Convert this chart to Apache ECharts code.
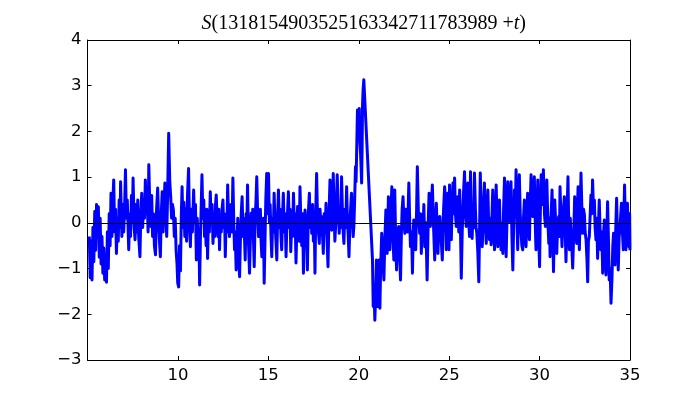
<!DOCTYPE html>
<html>
<head>
<meta charset="utf-8">
<script src="https://cdn.jsdelivr.net/npm/echarts@6/dist/echarts.min.js"></script>
<style>html,body{margin:0;padding:0;background:#fff}#c{width:700px;height:400px}</style>
</head>
<body>
<div id="c"></div>
<script>
// Tick values
const xTicks = [5, 10, 15, 20, 25, 30, 35];
const yTicks = [-3, -2, -1, 0, 1, 2, 3, 4];
const titleNumber = "1318154903525163342711783989";

// Series values [t, S], by segment
const segA = [[5.10,-0.30],[5.15,-1.20],[5.20,-0.40],[5.25,-1.25],[5.30,-0.10],[5.35,-0.85],[5.40,0.25],[5.45,-0.60],[5.50,0.40],[5.55,-0.20],[5.60,0.35],[5.65,-0.75],[5.70,0.10],[5.75,-0.90],[5.80,-0.30],[5.85,-1.10],[5.90,-0.55],[5.95,-1.25],[6.00,-0.70],[6.05,-1.30],[6.10,-0.20],[6.15,-1.00],[6.20,0.20],[6.25,-0.50],[6.30,0.65],[6.35,-0.30],[6.40,0.45],[6.45,0.94],[6.50,-0.20],[6.55,0.30],[6.60,-0.67],[6.65,0.10],[6.70,-0.40],[6.75,0.50],[6.80,-0.10],[6.83,0.90],[6.90,-0.30],[6.95,0.40],[7.00,-0.20],[7.05,0.30],[7.10,1.16],[7.15,0.10],[7.20,0.50],[7.28,-0.59],[7.33,0.20],[7.38,-0.30],[7.43,0.60],[7.48,0.00],[7.52,0.98],[7.58,-0.10],[7.63,-0.37],[7.68,0.40],[7.73,-0.20],[7.78,0.50],[7.83,-0.30],[7.90,-0.74],[7.95,0.20],[8.00,0.65],[8.05,-0.10],[8.10,0.50],[8.15,0.10],[8.20,0.94],[8.25,0.20],[8.30,0.60],[8.35,-0.20],[8.39,1.27],[8.45,0.30],[8.50,-0.08],[8.55,0.60],[8.60,-0.30],[8.65,0.20],[8.70,-0.50],[8.76,-0.70],[8.82,0.30],[8.88,0.76],[8.93,0.10],[8.98,-0.40],[9.03,-0.74],[9.08,0.20],[9.13,0.68],[9.18,-0.20],[9.23,0.40],[9.28,0.87],[9.33,0.30],[9.38,-0.30],[9.43,0.60],[9.49,1.96],[9.55,0.90],[9.60,0.57],[9.65,0.10],[9.70,0.40],[9.75,0.28],[9.80,-0.30],[9.85,0.10],[9.90,-0.60],[9.95,-0.90],[9.99,-1.32]];
const segB = [[10.04,-1.40],[10.09,-0.50],[10.14,-1.05],[10.19,0.20],[10.23,0.79],[10.28,-0.10],[10.33,0.45],[10.38,-0.30],[10.43,0.30],[10.48,-0.40],[10.53,0.60],[10.59,1.19],[10.64,0.00],[10.69,-0.52],[10.74,0.30],[10.80,-0.20],[10.87,0.72],[10.92,0.00],[10.97,0.40],[11.02,-0.81],[11.07,0.10],[11.12,-0.50],[11.16,-0.20],[11.20,-1.36],[11.25,-0.20],[11.29,0.40],[11.33,1.05],[11.38,0.10],[11.43,0.50],[11.47,-0.30],[11.51,0.06],[11.56,-0.50],[11.60,0.30],[11.64,-0.78],[11.69,0.20],[11.74,-0.20],[11.79,0.68],[11.84,0.00],[11.89,0.40],[11.94,-0.45],[11.99,0.20],[12.04,-0.30],[12.08,0.40],[12.12,0.61],[12.17,0.00],[12.22,-0.30],[12.26,0.30],[12.30,-0.59],[12.35,0.10],[12.40,-0.20],[12.44,0.30],[12.49,0.50],[12.53,-0.10],[12.58,0.20],[12.62,-0.74],[12.67,0.10],[12.71,-0.20],[12.75,0.83],[12.80,0.10],[12.85,-0.30],[12.89,-0.08],[12.94,0.40],[12.99,-0.20],[13.04,0.98],[13.09,0.00],[13.13,-0.59],[13.17,-0.20],[13.22,-1.03],[13.26,-0.50],[13.31,0.10],[13.36,-0.70],[13.41,-1.18],[13.46,-0.30],[13.50,0.20],[13.55,0.57],[13.60,-0.30],[13.65,0.10],[13.72,-0.81],[13.77,0.20],[13.81,-0.20],[13.85,0.83],[13.90,-0.40],[13.96,-1.10],[14.01,-0.30],[14.05,0.21],[14.09,-0.10],[14.14,0.30],[14.18,-0.40],[14.22,-0.96],[14.27,0.10],[14.32,0.50],[14.36,1.01],[14.41,0.20],[14.46,-0.30],[14.51,-0.16],[14.56,0.30],[14.60,-0.40],[14.64,-0.74],[14.69,-0.20],[14.73,0.10],[14.77,-1.32],[14.82,-0.30],[14.86,0.50],[14.91,1.08]];
const segC = [[14.96,0.20],[15.01,1.08],[15.06,0.00],[15.10,0.40],[15.15,-0.30],[15.19,-0.74],[15.24,0.10],[15.28,-0.20],[15.32,0.65],[15.37,0.00],[15.42,-0.40],[15.47,-0.81],[15.51,0.10],[15.56,0.72],[15.61,-0.10],[15.65,0.30],[15.70,-0.30],[15.74,-0.59],[15.79,0.20],[15.83,0.65],[15.88,-0.20],[15.93,0.20],[15.98,-0.74],[16.02,-0.10],[16.07,0.30],[16.11,0.68],[16.16,-0.10],[16.20,0.30],[16.24,-0.63],[16.29,0.00],[16.34,-0.30],[16.39,0.65],[16.44,-0.10],[16.48,0.20],[16.53,-0.88],[16.57,-0.20],[16.62,0.36],[16.66,0.10],[16.71,-0.40],[16.75,0.79],[16.80,0.00],[16.85,-0.50],[16.90,0.20],[16.94,-1.10],[16.99,-0.30],[17.03,0.28],[17.08,-0.20],[17.12,0.10],[17.16,-1.03],[17.21,0.20],[17.27,0.65],[17.31,-0.10],[17.36,0.30],[17.40,-0.23],[17.45,0.40],[17.49,-0.40],[17.54,0.00],[17.58,-1.10],[17.62,0.20],[17.67,1.08],[17.72,0.10],[17.77,-0.20],[17.82,-0.45],[17.86,0.30],[17.91,-0.10],[17.95,0.14],[18.00,-0.30],[18.04,-0.67],[18.09,0.20],[18.14,-0.20],[18.19,0.43],[18.24,-0.30],[18.30,-0.96],[18.35,0.10],[18.41,0.94],[18.45,0.20],[18.50,-0.16],[18.55,0.40],[18.59,1.08],[18.64,0.20],[18.68,-0.40],[18.72,-0.08],[18.77,0.50],[18.81,1.05],[18.86,0.30],[18.92,-0.23],[18.96,0.20],[19.00,-0.10],[19.05,1.01],[19.10,0.20],[19.14,-0.20],[19.18,-0.45],[19.23,0.30],[19.28,-0.10],[19.33,0.79],[19.37,0.10],[19.42,-0.30],[19.46,-0.74],[19.51,0.00],[19.55,0.30],[19.60,0.65],[19.64,0.20],[19.69,-0.30],[19.73,-0.08],[19.78,0.60],[19.82,1.23],[19.85,0.90],[19.88,1.45]];
const segD = [[19.91,2.10],[19.93,2.47],[19.96,1.90],[19.99,2.30],[20.03,2.50],[20.06,1.80],[20.10,1.52],[20.13,1.20],[20.16,0.87],[20.19,1.80],[20.21,2.60],[20.24,2.90],[20.28,3.13],[20.76,-0.81],[20.80,-1.83],[20.84,-1.40],[20.89,-2.13],[20.94,-1.50],[20.98,-0.81],[21.03,-1.83],[21.08,-1.20],[21.13,-0.81],[21.17,-1.87],[21.21,-1.00],[21.27,-0.23],[21.31,-0.60],[21.35,-0.90],[21.39,-1.25],[21.44,-0.40],[21.50,0.28],[21.54,-0.20],[21.57,-0.67],[21.61,0.00],[21.64,0.57],[21.68,-0.10],[21.72,-0.59],[21.77,0.10],[21.83,0.79],[21.88,-0.20],[21.94,-0.81],[21.99,0.72],[22.04,-0.30],[22.09,-1.03],[22.15,-0.20],[22.21,-0.08],[22.26,-0.70],[22.31,-1.25],[22.36,-0.20],[22.40,0.30],[22.45,0.57],[22.50,0.00],[22.55,-0.23],[22.60,0.30],[22.64,0.28],[22.70,-0.20],[22.77,0.87],[22.82,0.00],[22.86,-0.52],[22.92,-0.20],[22.97,-1.10],[23.01,-0.30],[23.04,0.06],[23.10,-0.20],[23.15,-0.59],[23.20,0.30],[23.24,1.23],[23.30,0.20],[23.37,-0.23],[23.42,0.20],[23.46,-0.67],[23.51,0.00],[23.56,-0.08],[23.60,0.40],[23.65,-0.52],[23.71,0.00],[23.78,-1.25],[23.84,0.00],[23.89,0.65],[23.93,0.10],[23.96,-0.08],[24.02,0.40],[24.07,0.83],[24.13,0.00],[24.20,-0.81],[24.25,0.10],[24.29,0.43],[24.34,-0.20],[24.38,-0.67],[24.43,0.00],[24.48,0.14],[24.55,-0.30],[24.62,-0.81],[24.68,0.20],[24.75,0.79],[24.80,0.43],[24.84,-0.59]];
const segE = [[24.89,0.20],[24.93,0.65],[24.99,-0.59],[25.02,0.83],[25.07,0.00],[25.12,-0.37],[25.16,0.30],[25.21,0.87],[25.26,0.20],[25.30,0.98],[25.35,0.20],[25.39,-0.08],[25.44,0.30],[25.48,0.57],[25.53,-0.20],[25.58,0.72],[25.62,0.00],[25.67,-1.21],[25.72,-0.23],[25.76,0.30],[25.80,0.72],[25.85,1.12],[25.90,0.20],[25.94,-0.08],[25.99,0.40],[26.03,0.87],[26.08,0.00],[26.13,-0.30],[26.18,1.12],[26.22,0.20],[26.27,-0.34],[26.32,0.30],[26.36,-0.10],[26.40,1.09],[26.45,0.30],[26.49,-0.10],[26.53,-0.23],[26.58,-0.60],[26.64,-1.29],[26.68,-0.20],[26.72,1.09],[26.78,0.20],[26.83,-0.52],[26.89,0.20],[26.95,0.87],[27.00,0.00],[27.05,-0.45],[27.10,0.20],[27.14,0.72],[27.19,-0.10],[27.23,-0.37],[27.28,0.10],[27.32,-0.48],[27.37,0.20],[27.41,0.72],[27.46,-0.10],[27.51,-0.59],[27.55,0.10],[27.60,0.83],[27.65,0.00],[27.69,-0.52],[27.74,0.10],[27.78,0.50],[27.83,-0.20],[27.87,-0.59],[27.92,0.00],[27.97,-0.67],[28.01,0.30],[28.06,0.98],[28.11,0.00],[28.15,-0.74],[28.20,0.10],[28.24,0.90],[28.29,0.30],[28.33,0.03],[28.38,0.50],[28.42,0.90],[28.47,-0.30],[28.52,-1.03],[28.56,-0.20],[28.61,0.72],[28.66,0.30],[28.70,1.16],[28.75,0.00],[28.79,-0.59],[28.84,0.30],[28.88,1.05],[28.93,0.20],[28.98,-0.23],[29.02,-0.50],[29.07,-0.59],[29.11,0.10],[29.16,0.50],[29.21,-0.20],[29.25,-0.52],[29.30,0.20],[29.34,0.65],[29.39,0.00],[29.44,-0.37],[29.48,0.40],[29.53,1.05],[29.58,0.30],[29.62,0.14],[29.67,0.50],[29.71,1.01],[29.76,0.00],[29.80,-0.59],[29.85,0.00]];
const segF = [[29.90,0.94],[29.95,-0.30],[30.00,-0.96],[30.04,0.20],[30.09,1.05],[30.15,0.40],[30.21,1.16],[30.27,0.20],[30.32,-0.08],[30.36,0.50],[30.40,0.94],[30.46,0.00],[30.51,-0.45],[30.55,0.10],[30.58,-0.74],[30.64,0.20],[30.69,0.72],[30.73,-0.20],[30.77,-1.07],[30.81,-0.20],[30.84,0.50],[30.90,-0.10],[30.95,-0.67],[31.00,0.00],[31.06,0.14],[31.10,-0.30],[31.13,0.79],[31.19,0.00],[31.24,-0.52],[31.30,0.20],[31.37,0.57],[31.42,-0.20],[31.46,-0.85],[31.52,0.20],[31.57,1.01],[31.61,0.00],[31.65,-0.59],[31.70,0.10],[31.74,-0.30],[31.79,-0.60],[31.83,-0.99],[31.89,-0.20],[31.94,0.57],[32.00,-0.10],[32.05,-0.45],[32.09,0.30],[32.13,0.79],[32.17,0.00],[32.20,-0.59],[32.25,0.30],[32.29,1.09],[32.34,0.30],[32.38,-0.23],[32.43,0.30],[32.48,0.17],[32.52,-0.20],[32.57,-0.37],[32.62,-0.80],[32.66,-1.29],[32.70,-0.40],[32.75,-0.30],[32.80,0.20],[32.84,0.61],[32.89,0.20],[32.93,0.94],[32.98,0.30],[33.03,0.50],[33.07,-0.10],[33.12,-0.37],[33.16,0.10],[33.21,-0.78],[33.26,0.00],[33.30,0.50],[33.35,-0.20],[33.39,-0.59],[33.44,-0.20],[33.49,-1.10],[33.53,-0.30],[33.58,0.06],[33.62,-0.50],[33.67,-1.14],[33.72,-0.20],[33.76,0.46],[33.81,-0.40],[33.85,-1.25],[33.90,-1.00],[33.95,-1.76],[34.00,-1.25],[34.05,-0.50],[34.09,-0.23],[34.13,-0.60],[34.17,-0.92],[34.22,0.00],[34.26,0.54],[34.31,-0.30],[34.35,-1.03],[34.40,-0.30],[34.44,-0.16],[34.49,0.20],[34.53,0.43],[34.58,-0.20],[34.63,-0.59],[34.66,0.20],[34.70,0.83],[34.74,0.00],[34.77,-0.59],[34.82,0.00],[34.86,0.43],[34.90,-0.20],[34.94,-0.52],[34.98,0.20],[35.00,-0.60]];

const seriesData = [].concat(segA, segB, segC, segD, segE, segF);

const chart = echarts.init(document.getElementById('c'), null, {renderer: 'canvas'});
const fmt = v => (v < 0 ? '\u2212' + Math.abs(v) : String(v));
const xMin = xTicks[0], xMax = xTicks[xTicks.length - 1];
const yMin = yTicks[0], yMax = yTicks[yTicks.length - 1];
const tickCommon = {show: true, inside: true, length: 4, lineStyle: {color: '#000', width: 1}};
const lineCommon = {show: true, onZero: false, lineStyle: {color: '#000', width: 1}};
const labelFont = {color: '#000', fontFamily: 'DejaVu Sans', fontSize: 16.5};

chart.setOption({
  animation: false,
  backgroundColor: '#fff',
  title: {
    text: '{i|S}{n|(' + titleNumber + ' +}{i|t}{n|)}',
    left: 358.75,
    top: 9,
    textAlign: 'center',
    textStyle: {
      fontWeight: 'normal',
      rich: {
        i: {fontFamily: 'Liberation Serif', fontStyle: 'italic', fontWeight: 'normal', fontSize: 20, color: '#000'},
        n: {fontFamily: 'Liberation Serif', fontWeight: 'normal', fontSize: 20, color: '#000'}
      }
    }
  },
  grid: {left: 87.5, right: 70, top: 40, bottom: 40, show: false, containLabel: false},
  xAxis: [
    {type: 'value', position: 'bottom', min: xMin, max: xMax, interval: 5,
     axisLine: lineCommon, axisTick: tickCommon, splitLine: {show: false},
     axisLabel: Object.assign({margin: 7, formatter: v => (v === xMin ? '' : fmt(v))}, labelFont)},
    {type: 'value', position: 'top', min: xMin, max: xMax, interval: 5,
     axisLine: lineCommon, axisTick: tickCommon, splitLine: {show: false}, axisLabel: {show: false}}
  ],
  yAxis: [
    {type: 'value', position: 'left', min: yMin, max: yMax, interval: 1,
     axisLine: lineCommon, axisTick: tickCommon, splitLine: {show: false},
     axisLabel: Object.assign({margin: 6, formatter: fmt}, labelFont)},
    {type: 'value', position: 'right', min: yMin, max: yMax, interval: 1,
     axisLine: lineCommon, axisTick: tickCommon, splitLine: {show: false}, axisLabel: {show: false}}
  ],
  series: [{
    type: 'line',
    data: seriesData,
    showSymbol: false,
    symbol: 'none',
    lineStyle: {color: '#0000ff', width: 3, join: 'round'},
    clip: true,
    markLine: {
      silent: true,
      symbol: ['none', 'none'],
      label: {show: false},
      lineStyle: {color: '#000', width: 1, type: 'solid'},
      data: [{yAxis: 0}]
    }
  }]
});
</script>
</body>
</html>
